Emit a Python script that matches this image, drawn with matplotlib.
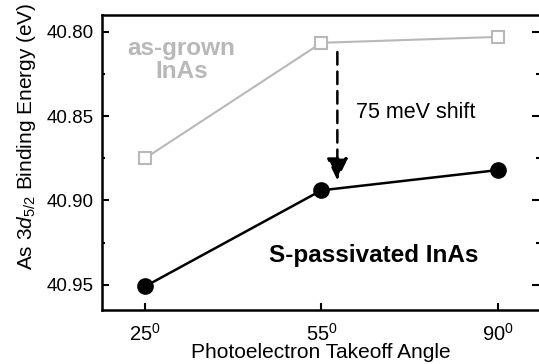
import matplotlib.pyplot as plt
from matplotlib.ticker import MultipleLocator

plt.rcParams['font.family'] = ['Liberation Sans', 'DejaVu Sans']
plt.rcParams['mathtext.fontset'] = 'custom'
plt.rcParams['mathtext.rm'] = 'Liberation Sans'
plt.rcParams['mathtext.it'] = 'Liberation Sans:italic'

angles = ['25$^0$', '55$^0$', '90$^0$']
as_grown = [40.875, 40.8065, 40.803]
s_passivated = [40.951, 40.894, 40.882]

fig = plt.figure(figsize=(5.39, 3.64), dpi=100)
ax = fig.add_axes([102 / 539, 1 - 310 / 364, 437 / 539, 295 / 364])

x = range(len(angles))
ax.plot(x, as_grown, color='#b8b8b8', lw=1.5, marker='s', ms=8.5,
        mfc='white', mec='#b8b8b8', mew=1.5)
ax.plot(x, s_passivated, color='black', lw=1.8, marker='o', ms=11,
        mfc='black', mec='black')

# dashed arrow showing the shift after passivation
ax.annotate('', xy=(1.09, 40.888), xytext=(1.09, 40.812),
            arrowprops=dict(arrowstyle='-|>,head_width=0.65,head_length=1.35',
                            color='black', lw=1.8, linestyle=(0, (5, 2.8)),
                            shrinkA=0, shrinkB=0))
ax.text(1.193, 40.8476, '75 meV shift', fontsize=15.5, va='center', ha='left')
ax.text(0.205, 40.8167, 'as-grown\nInAs', fontsize=17.5, fontweight='bold',
        color='#b8b8b8', ha='center', va='center', linespacing=1.0)
ax.text(1.295, 40.9327, 'S-passivated InAs', fontsize=17.5, fontweight='bold',
        ha='center', va='center')

ax.set_xlim(-0.244, 2.233)
ax.set_ylim(40.965, 40.790)
ax.set_xticks(list(x))
ax.set_xticklabels(angles)
ax.yaxis.set_major_locator(MultipleLocator(0.05))
ax.yaxis.set_minor_locator(MultipleLocator(0.025))
ax.yaxis.set_major_formatter(plt.FormatStrFormatter('%.2f'))

ax.spines['right'].set_visible(False)
for s in ['left', 'bottom', 'top']:
    ax.spines[s].set_linewidth(1.8)
ax.tick_params(axis='y', which='both', direction='in', right=True,
               labelsize=13.5, pad=6)
ax.tick_params(axis='y', which='major', length=5, width=1.5)
ax.tick_params(axis='y', which='minor', length=2, width=1.5)
ax.tick_params(axis='x', direction='in', length=5, width=1.5, labelsize=14.5, pad=9)

ax.set_xlabel('Photoelectron Takeoff Angle', fontsize=15, labelpad=-1)
fig.text(27 / 539, 1 - 136 / 364, 'As $3\\mathit{d}_{5/2}$ Binding Energy (eV)',
         fontsize=15, rotation=90, ha='center', va='center')

fig.savefig('out.png', dpi=100)
